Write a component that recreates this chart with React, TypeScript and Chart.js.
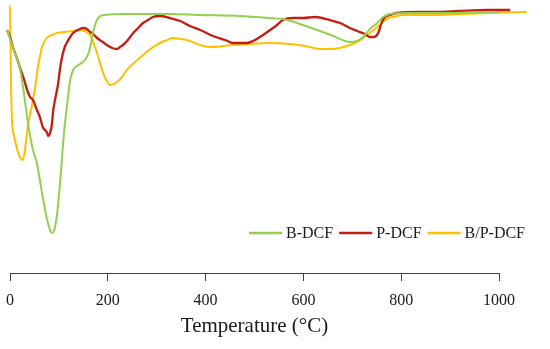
import React, { useEffect, useRef } from "react";
import { Chart, registerables } from "chart.js";

Chart.register(...registerables);

const seriesLabels = ["B-DCF", "P-DCF", "B/P-DCF"];
const seriesColors = ["#92D050", "#C41E14", "#FFC000"];
const xTickValues = [0, 200, 400, 600, 800, 1000];
const xTitle = "Temperature (°C)";

// B-DCF
const bTemp = [-6, 8, 20, 27, 33, 39, 47, 55, 61, 68, 76, 82, 86, 90, 96, 102, 106, 110, 115, 119, 123, 129, 137, 143, 153, 160, 164, 170, 176, 182, 194, 239, 327, 389, 470, 532, 567, 599, 634, 661, 685, 695, 710, 722, 736, 751, 763, 777, 818, 879, 941, 1002, 1057];
const bDtg = [-3.0, -5.0, -6.8, -8.8, -11.0, -13.0, -15.0, -16.3, -18.0, -20.0, -22.0, -23.0, -23.3, -23.1, -21.5, -18.5, -16.0, -13.5, -11.2, -9.5, -8.0, -7.0, -6.6, -6.4, -6.0, -5.4, -4.7, -3.2, -2.2, -1.7, -1.5, -1.4, -1.4, -1.5, -1.6, -1.8, -2.0, -2.5, -3.1, -3.6, -4.1, -4.2, -4.1, -3.7, -2.9, -2.3, -1.7, -1.4, -1.3, -1.3, -1.25, -1.2, -1.1];

// P-DCF
const pTemp = [-6, 0, 6, 14, 20, 29, 35, 41, 47, 55, 61, 67, 76, 78, 82, 86, 88, 92, 98, 102, 106, 112, 117, 123, 129, 139, 149, 157, 164, 170, 178, 190, 198, 209, 219, 225, 231, 241, 252, 262, 272, 282, 292, 307, 327, 348, 368, 389, 415, 440, 456, 470, 485, 497, 511, 532, 546, 558, 579, 599, 624, 654, 675, 695, 710, 726, 736, 744, 753, 759, 765, 777, 791, 838, 873, 920, 975, 1023, 1057];
const pDtg = [-3.0, -3.7, -4.7, -5.8, -6.7, -8.0, -9.0, -9.7, -10.0, -11.0, -11.7, -12.7, -13.3, -13.6, -13.3, -12.3, -11.2, -10.0, -8.5, -7.0, -5.8, -4.7, -4.2, -3.7, -3.3, -3.0, -2.8, -2.9, -3.2, -3.4, -3.8, -4.2, -4.5, -4.8, -4.9, -4.7, -4.5, -4.0, -3.3, -2.8, -2.3, -2.0, -1.7, -1.6, -1.8, -2.1, -2.6, -3.0, -3.6, -4.0, -4.3, -4.3, -4.3, -4.1, -3.7, -3.0, -2.5, -2.0, -1.8, -1.8, -1.7, -2.0, -2.3, -2.8, -3.1, -3.4, -3.7, -3.7, -3.3, -2.4, -1.8, -1.5, -1.3, -1.2, -1.2, -1.1, -1.0, -1.0, -1.0];

// B/P-DCF
const bpTemp = [-4, -1, 1, 2, 4, 8, 14, 20, 25, 29, 33, 37, 43, 47, 53, 57, 61, 65, 72, 78, 86, 96, 112, 129, 143, 153, 160, 166, 172, 178, 184, 192, 198, 204, 213, 219, 229, 239, 256, 272, 290, 307, 321, 333, 348, 362, 378, 395, 415, 436, 456, 491, 532, 573, 603, 634, 654, 675, 695, 710, 722, 736, 751, 763, 773, 783, 804, 859, 920, 982, 1057];
const bpDtg = [-3.0, -0.5, -4.0, -8.0, -12.0, -13.5, -14.8, -15.7, -16.0, -15.5, -14.0, -12.5, -11.0, -10.0, -8.2, -6.7, -5.7, -4.8, -4.0, -3.7, -3.5, -3.3, -3.2, -3.1, -3.0, -3.1, -3.3, -3.7, -4.5, -5.3, -6.3, -7.5, -8.1, -8.5, -8.4, -8.2, -7.7, -7.0, -6.2, -5.5, -4.8, -4.3, -4.0, -3.8, -3.9, -4.0, -4.3, -4.6, -4.7, -4.6, -4.5, -4.4, -4.3, -4.4, -4.6, -4.9, -4.9, -4.8, -4.5, -4.2, -3.8, -3.3, -2.7, -2.2, -1.8, -1.7, -1.5, -1.5, -1.4, -1.3, -1.2];

const toPoints = (xs: number[], ys: number[]) => xs.map((x, i) => ({ x, y: ys[i] }));

const FONT = "'Liberation Serif', 'Times New Roman', serif";

const insideLegend = {
  id: "insideLegend",
  afterDatasetsDraw(chart: any) {
    const ctx = chart.ctx;
    const area = chart.chartArea;
    ctx.save();
    ctx.font = `16px ${FONT}`;
    ctx.textBaseline = "middle";
    ctx.textAlign = "left";
    const lineLen = 33;
    const gap = 4;
    const itemGap = 6;
    const items = chart.data.datasets.map((ds: any) => ({
      label: ds.label,
      color: ds.borderColor,
      w: ctx.measureText(ds.label).width,
    }));
    const total =
      items.reduce((s: number, it: any) => s + lineLen + gap + it.w, 0) + itemGap * (items.length - 1);
    let x = area.right + 26 - total;
    const y = area.bottom - 40;
    for (const it of items) {
      ctx.strokeStyle = it.color;
      ctx.lineWidth = 2.5;
      ctx.beginPath();
      ctx.moveTo(x, y);
      ctx.lineTo(x + lineLen, y);
      ctx.stroke();
      x += lineLen + gap;
      ctx.fillStyle = "#1a1a1a";
      ctx.fillText(it.label, x, y + 1);
      x += it.w + itemGap;
    }
    ctx.restore();
  },
};

export default function App() {
  const canvasRef = useRef<HTMLCanvasElement | null>(null);

  useEffect(() => {
    const canvas = canvasRef.current;
    if (!canvas) return;
    const temps = [bTemp, pTemp, bpTemp];
    const vals = [bDtg, pDtg, bpDtg];
    const chart = new Chart(canvas, {
      type: "line",
      data: {
        datasets: seriesLabels.map((label, i) => ({
          label,
          data: toPoints(temps[i], vals[i]),
          borderColor: seriesColors[i],
          backgroundColor: seriesColors[i],
          borderWidth: i === 1 ? 2.3 : 2,
          pointRadius: 0,
          cubicInterpolationMode: "monotone" as const,
          clip: false as any,
          fill: false,
        })),
      },
      options: {
        responsive: false,
        animation: false,
        layout: { padding: { left: 10, right: 51, top: 0, bottom: 7 } },
        plugins: {
          legend: { display: false },
          tooltip: { enabled: false },
        },
        scales: {
          x: {
            type: "linear",
            min: 0,
            max: 1000,
            afterBuildTicks: (scale: any) => {
              scale.ticks = xTickValues.map((v) => ({ value: v }));
            },
            afterFit: (scale: any) => {
              scale.height = 69;
              scale.paddingLeft = 0;
              scale.paddingRight = 0;
            },
            grid: {
              display: true,
              drawOnChartArea: false,
              drawTicks: true,
              tickLength: 8,
              color: "#404040",
              lineWidth: 1,
            },
            border: { display: true, color: "#404040", width: 1 },
            ticks: {
              padding: 10,
              color: "#1a1a1a",
              font: { family: FONT, size: 16 },
              maxRotation: 0,
              callback: (v: any) => String(v),
            },
            title: {
              display: true,
              text: xTitle,
              color: "#1a1a1a",
              font: { family: FONT, size: 21 },
              padding: { top: 3, bottom: 3 },
            },
          },
          y: {
            type: "linear",
            display: false,
            min: -27.3,
            max: 0,
          },
        },
      },
      plugins: [insideLegend],
    });
    return () => chart.destroy();
  }, []);

  return (
    <div style={{ position: "fixed", left: 0, top: 0, width: 550, height: 349, background: "#fff" }}>
      <canvas ref={canvasRef} width={550} height={349} style={{ display: "block" }} />
    </div>
  );
}
